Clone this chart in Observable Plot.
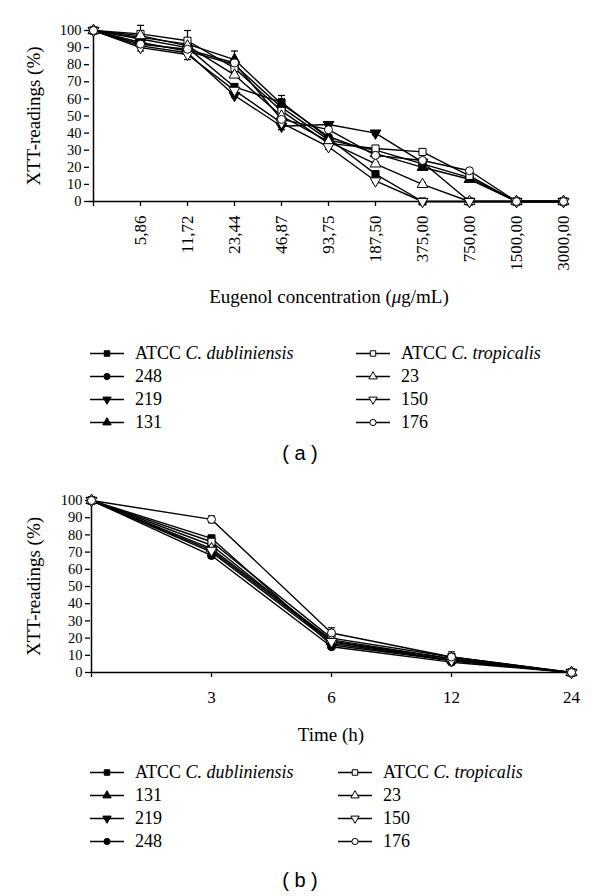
<!DOCTYPE html>
<html><head><meta charset="utf-8">
<script src="https://cdn.jsdelivr.net/npm/d3@7"></script>
<script src="https://cdn.jsdelivr.net/npm/@observablehq/plot@0.6"></script>
<style>
body{margin:0;background:#fff;}
#root{position:relative;width:600px;height:896px;font-family:"Liberation Serif","Times New Roman",serif;color:#000;overflow:hidden;}
.panel{position:absolute;left:0;}
.xtitle{position:absolute;font-size:19px;transform:translate(-50%,-50%);white-space:nowrap;}
.leg{position:absolute;font-size:18px;display:flex;align-items:center;white-space:nowrap;transform:translateY(-50%);}
.leg svg{margin-right:11px;}
.cap{position:absolute;font-family:"Liberation Sans",Arial,sans-serif;font-size:20px;transform:translate(-50%,-50%);white-space:pre;}
</style></head>
<body><div id="root"></div>
<script>
// ---------- Panel (a) data ----------
const concLabels = ["0","5,86","11,72","23,44","46,87","93,75","187,50","375,00","750,00","1500,00","3000,00"];
const seriesA = ["ATCC C. dubliniensis","248","219","131","ATCC C. tropicalis","23","150","176"];
const aDubliniensis = [100,95,90,67,58,37,16,0,0,0,0];
const a248          = [100,93,88,80,55,36,30,22,14,0,0];
const a219          = [100,91,87,62,44,45,40,23,0,0,0];
const a131          = [100,96,92,83,57,38,28,20,13,0,0];
const aTropicalis   = [100,98,94,78,53,34,31,29,15,0,0];
const a23           = [100,97,91,74,50,35,22,10,0,0,0];
const a150          = [100,90,86,65,46,32,12,0,0,0,0];
const a176          = [100,92,89,81,48,42,27,24,18,0,0];
const sdADubliniensis = [0,1,1,1.5,4,1,1.5,0,0,0,0];
const sdA248          = [0,1,1,1,1,1,1,1,1,0,0];
const sdA219          = [0,1,1,1,2,1.5,1,1,0,0,0];
const sdA131          = [0,1,1,5,1,1,1,1,1,0,0];
const sdATropicalis   = [0,5,6,1,1,1,1,1,1,0,0];
const sdA23           = [0,1,1,1,1,1,1,1,0,0,0];
const sdA150          = [0,2,3,1,1,1.5,1,0,0,0,0];
const sdA176          = [0,1,1,1,1,1,1,1,1,0,0];

// ---------- Panel (b) data ----------
const timeLabels = ["0","3","6","12","24"];
const seriesB = ["ATCC C. dubliniensis","131","219","248","ATCC C. tropicalis","23","150","176"];
const bDubliniensis = [100,78,16,7,0];
const b131          = [100,74,18,8,0];
const b219          = [100,70,17,7,0];
const b248          = [100,68,15,6,0];
const bTropicalis   = [100,76,20,9,0];
const b23           = [100,72,19,8,0];
const b150          = [100,71,18,7,0];
const b176          = [100,89,23,9,0];
const sdBDubliniensis = [0,1.5,1,1,0];
const sdB131          = [0,1,1,1,0];
const sdB219          = [0,1,1,1,0];
const sdB248          = [0,1.5,1,1,0];
const sdBTropicalis   = [0,1,1,1,0];
const sdB23           = [0,1,1,1,0];
const sdB150          = [0,1,1,1,0];
const sdB176          = [0,2,3,3,0];
const yTicks = [0,10,20,30,40,50,60,70,80,90,100];

// ---------- symbols ----------
const sqrt3 = Math.sqrt(3);
const triDown = {draw(ctx, size){const y = -Math.sqrt(size/(sqrt3*3)); ctx.moveTo(0,-y*2); ctx.lineTo(-sqrt3*y,y); ctx.lineTo(sqrt3*y,y); ctx.closePath();}};
const capSym = {draw(ctx, size){const w = Math.sqrt(size)/2; ctx.moveTo(-w,0); ctx.lineTo(w,0);}};
const style = {
  "ATCC C. dubliniensis": [d3.symbolSquare, true],
  "248": [d3.symbolCircle, true],
  "219": [triDown, true],
  "131": [d3.symbolTriangle, true],
  "ATCC C. tropicalis": [d3.symbolSquare, false],
  "23": [d3.symbolTriangle, false],
  "150": [triDown, false],
  "176": [d3.symbolCircle, false]
};

function buildRows(cats, names, vals, sds){
  const rows = [];
  names.forEach((n,i)=>cats.forEach((c,j)=>rows.push({series:n, x:c, v:vals[i][j], sd:sds[i][j]})));
  return rows;
}

function makePanel(cats, names, rows, opts){
  const err = rows.filter(d=>d.sd>0);
  const dots = names.map(n=>{
    const [sym, filled] = style[n];
    return Plot.dot(rows.filter(d=>d.series===n), {x:"x", y:"v", symbol: sym, r: 4, fill: filled?"#000":"#fff", stroke:"#000", strokeWidth:1});
  });
  const svg = Plot.plot({
    width: 600, height: opts.height,
    marginLeft: opts.ml, marginRight: opts.mr, marginTop: opts.mt, marginBottom: opts.mb,
    style: {fontFamily: '"Liberation Serif","Times New Roman",serif', fontSize: "17px", background:"#fff", color:"#000"},
    x: {type:"point", domain: cats, padding: 0},
    y: {domain:[0,100]},
    marks: [
      Plot.axisY({ticks: yTicks, tickSize: 5, tickPadding: 3, fontSize: 14.5, label: "XTT-readings (%)", labelAnchor: "center", labelArrow: "none", labelOffset: opts.labelOffset, strokeWidth: 1.3}),
      Plot.axisX({tickSize: 5, tickPadding: opts.tickPadding, tickRotate: opts.rotate, fontSize: 17, tickFormat: d => d==="0" ? "" : d, label: null, strokeWidth: 1.3}),
      Plot.ruleY([0], {stroke:"#000", strokeWidth:1.5}),
      Plot.ruleX([cats[0]], {stroke:"#000", strokeWidth:1.5}),
      Plot.line(rows, {x:"x", y:"v", z:"series", stroke:"#000", strokeWidth:1.4}),
      Plot.ruleX(err, {x:"x", y1: d=>d.v-d.sd, y2: d=>d.v+d.sd, stroke:"#000", strokeWidth:1.2}),
      Plot.dot(err, {x:"x", y: d=>d.v+d.sd, symbol: capSym, r: 4, stroke:"#000", strokeWidth:1.2}),
      Plot.dot(err, {x:"x", y: d=>d.v-d.sd, symbol: capSym, r: 4, stroke:"#000", strokeWidth:1.2}),
      ...dots
    ]
  });
  svg.querySelectorAll('[aria-label="y-axis label"] text').forEach(t=>{t.style.fontSize="19px";});
  return svg;
}

const root = document.getElementById("root");

function addTitle(html, x, y){
  const d = document.createElement("div"); d.className="xtitle"; d.innerHTML = html;
  d.style.left = x+"px"; d.style.top = y+"px"; root.appendChild(d);
}
function labelHtml(n){
  if (n.startsWith("ATCC ")) return 'ATCC <i>' + n.slice(5) + '</i>';
  return n;
}
function swatch(n){
  const [sym, filled] = style[n];
  const s = d3.create("svg").attr("width",34).attr("height",14);
  s.append("line").attr("x1",0).attr("x2",34).attr("y1",7).attr("y2",7).attr("stroke","#000").attr("stroke-width",1.4);
  s.append("path").attr("d", d3.symbol(sym, 30)()).attr("transform","translate(17,7)")
    .attr("fill", filled?"#000":"#fff").attr("stroke","#000").attr("stroke-width",1);
  return s.node();
}
function addLegend(names, colX, rowY){
  names.forEach((n,i)=>{
    const col = i<4 ? 0 : 1, row = i%4;
    const d = document.createElement("div"); d.className="leg";
    d.style.left = colX[col]+"px"; d.style.top = rowY[row]+"px";
    d.appendChild(swatch(n));
    const sp = document.createElement("span"); sp.innerHTML = labelHtml(n); d.appendChild(sp);
    root.appendChild(d);
  });
}
function addCaption(t, x, y){
  const d = document.createElement("div"); d.className="cap"; d.textContent=t;
  d.style.left = x+"px"; d.style.top = y+"px"; root.appendChild(d);
}

// Panel (a)
const rowsA = buildRows(concLabels, seriesA,
  [aDubliniensis,a248,a219,a131,aTropicalis,a23,a150,a176],
  [sdADubliniensis,sdA248,sdA219,sdA131,sdATropicalis,sdA23,sdA150,sdA176]);
const svgA = makePanel(concLabels, seriesA, rowsA, {height:290, ml:89, mr:34, mt:30, mb:89, labelOffset:63, tickPadding:9, rotate:-90});
const pa = document.createElement("div"); pa.className="panel"; pa.style.top="0px"; pa.appendChild(svgA); root.appendChild(pa);
addTitle('Eugenol concentration (<i>μ</i>g/mL)', 329, 297);
addLegend(seriesA, [90, 356], [353, 376, 399, 422]);
addCaption("( a )", 300, 453);

// Panel (b)
const rowsB = buildRows(timeLabels, seriesB,
  [bDubliniensis,b131,b219,b248,bTropicalis,b23,b150,b176],
  [sdBDubliniensis,sdB131,sdB219,sdB248,sdBTropicalis,sdB23,sdB150,sdB176]);
const svgB = makePanel(timeLabels, seriesB, rowsB, {height:240, ml:90, mr:29, mt:30, mb:38, labelOffset:64, tickPadding:13, rotate:0});
const pb = document.createElement("div"); pb.className="panel"; pb.style.top="470px"; pb.appendChild(svgB); root.appendChild(pb);
addTitle('Time (h)', 331, 735);
addLegend(seriesB, [90, 338], [772, 795, 818, 841]);
addCaption("( b )", 300, 880);
</script>
</body></html>
